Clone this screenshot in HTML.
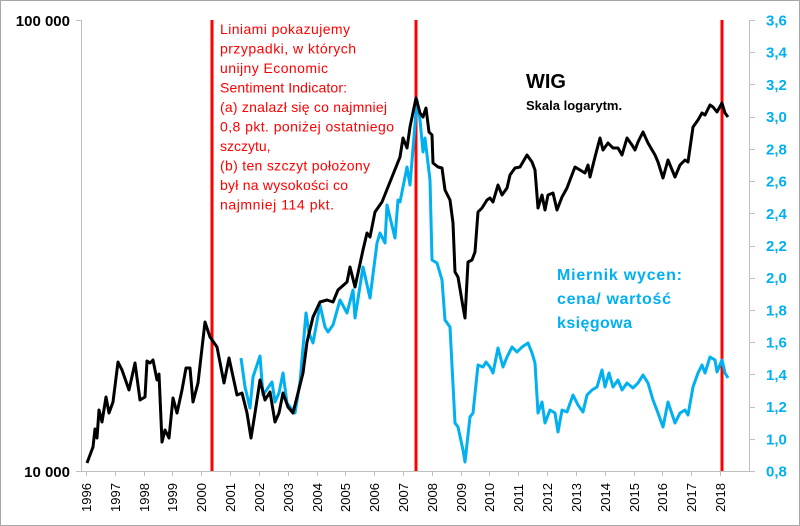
<!DOCTYPE html>
<html><head><meta charset="utf-8"><style>
html,body{margin:0;padding:0;background:#fff}
svg{display:block;font-family:"Liberation Sans",sans-serif}
</style></head><body>
<svg width="800" height="526" viewBox="0 0 800 526" xmlns="http://www.w3.org/2000/svg">
<rect x="0.5" y="0.5" width="799" height="525" fill="#fff" stroke="#a6a6a6"/>
<g stroke="#bfbfbf" stroke-width="1" fill="none">
<line x1="81.5" y1="20" x2="81.5" y2="471"/>
<line x1="76" y1="20.5" x2="81" y2="20.5"/>
<line x1="76" y1="471.5" x2="81" y2="471.5"/>
<line x1="81" y1="471.5" x2="749" y2="471.5"/>
<line x1="749.5" y1="20" x2="749.5" y2="471"/>
</g>
<g stroke="#bfbfbf" stroke-width="1" id="rt"></g>
<g stroke="#bfbfbf" stroke-width="1" id="bt"></g>
<g font-size="15" font-weight="bold" fill="#000" text-anchor="end">
<text x="70" y="26">100 000</text>
<text x="70" y="477">10 000</text>
</g>
<g font-size="15" font-weight="bold" fill="#00b0f0" id="rl"></g>
<g font-size="13" fill="#000" id="yl"></g>
<g stroke="#ff0000" stroke-width="3">
<line x1="212" y1="20" x2="212" y2="471"/>
<line x1="416" y1="20" x2="416" y2="471"/>
<line x1="722" y1="20" x2="722" y2="471"/>
</g>
<polyline fill="none" stroke="#00b0f0" stroke-width="3" stroke-linejoin="round" points="241,358 245,387 250,408 253,377 260,356 263,395 272,382 275,402 279,393 283,373 287,403 295,413 300,382 306,313 309,333 313,343 320,305 325,327 328,332 333,325 340,300 347,313 353,290 355,318 363,267 370,298 377,243 380,233 385,243 387,205 395,238 398,200 400,202 407,167 410,185 417,100 420,120 423,152 425,138 427,155 430,180 432,260 437,263 442,280 445,320 450,327 455,423 458,427 463,450 465,462 470,417 473,413 478,365 483,367 486,362 490,367 493,373 498,348 503,367 507,357 512,347 517,352 522,347 528,343 532,353 535,363 538,413 542,402 545,423 550,410 555,413 558,432 562,410 567,412 573,395 578,405 583,412 587,395 592,390 597,387 602,370 605,387 609,373 613,387 618,380 622,390 627,383 633,388 638,383 643,375 648,383 653,400 658,413 663,427 668,402 675,423 680,413 685,410 688,415 693,387 698,373 702,365 705,373 710,357 715,360 717,372 722,360 725,373 728,378"/>
<polyline fill="none" stroke="#000" stroke-width="3" stroke-linejoin="round" points="87,463 93,447 95,429 97,438 99,410 102,422 106,397 109,413 113,402 118,362 122,370 129,390 135,363 140,400 145,397 147,361 150,363 153,360 157,380 159,374 162,442 165,430 169,438 173,398 177,413 182,390 186,368 190,368 193,402 198,383 205,322 210,337 217,347 224,383 229,358 237,395 242,393 247,413 251,438 255,413 260,380 265,400 270,392 275,422 279,413 283,393 288,407 293,413 298,393 303,373 307,342 313,317 320,302 327,300 333,302 338,290 347,282 350,267 355,287 363,250 367,233 370,237 375,212 382,202 400,157 403,138 407,148 410,127 416,98 420,113 423,117 426,108 429,132 432,135 433,163 438,167 442,168 445,190 450,200 453,223 455,272 458,277 463,307 465,318 468,262 472,260 475,252 478,212 482,208 487,200 490,198 493,202 498,185 502,195 507,188 510,175 515,168 520,167 527,155 532,162 535,170 538,208 542,195 545,210 548,195 553,193 557,210 562,197 567,188 570,180 575,167 580,170 585,173 588,165 590,177 595,157 600,138 603,150 608,143 613,148 618,148 622,155 627,138 632,145 635,150 638,142 643,132 648,143 655,155 658,162 663,178 668,160 675,177 680,165 685,160 688,162 693,127 698,120 702,113 705,115 710,105 713,107 717,112 722,103 725,113 728,117"/>
<g font-size="14" fill="#ff0000">
<text x="220" y="34" textLength="130">Liniami pokazujemy</text>
<text x="220" y="53.5" textLength="136">przypadki, w których</text>
<text x="220" y="73" textLength="108">unijny Economic</text>
<text x="220" y="92.5" textLength="127">Sentiment Indicator:</text>
<text x="220" y="112" textLength="167">(a) znalazł się co najmniej</text>
<text x="220" y="131.5" textLength="174">0,8 pkt. poniżej ostatniego</text>
<text x="220" y="151">szczytu,</text>
<text x="220" y="170.5" textLength="150">(b) ten szczyt położony</text>
<text x="220" y="190" textLength="128">był na wysokości co</text>
<text x="220" y="209.5" textLength="114">najmniej 114 pkt.</text>
</g>
<text x="526" y="88" font-size="20" font-weight="bold" fill="#000">WIG</text>
<text x="526" y="110" font-size="13" font-weight="bold" fill="#000">Skala logarytm.</text>
<g font-size="16" font-weight="bold" fill="#00b0f0">
<text x="557" y="280" textLength="125">Miernik wycen:</text>
<text x="557" y="304" textLength="114">cena/ wartość</text>
<text x="557" y="328" textLength="75">księgowa</text>
</g>
<script>
var ns="http://www.w3.org/2000/svg";
var rt=document.getElementById('rt'),rl=document.getElementById('rl'),bt=document.getElementById('bt'),yl=document.getElementById('yl');
for(var i=0;i<=14;i++){var y=20+i*451/14;var v=(3.6-i*0.2).toFixed(1).replace('.',',');
var l=document.createElementNS(ns,'line');l.setAttribute('x1',749);l.setAttribute('x2',755);l.setAttribute('y1',Math.round(y)+0.5);l.setAttribute('y2',Math.round(y)+0.5);rt.appendChild(l);
var t=document.createElementNS(ns,'text');t.setAttribute('x',766);t.setAttribute('y',y+5.5);t.textContent=v;rl.appendChild(t);}
for(var k=0;k<=26;k++){var x=Math.round(86+k*(720-86)/22)+0.5;if(x>749)break;
var l2=document.createElementNS(ns,'line');l2.setAttribute('x1',x);l2.setAttribute('x2',x);l2.setAttribute('y1',471);l2.setAttribute('y2',476);bt.appendChild(l2);
if(k<=22){var t2=document.createElementNS(ns,'text');t2.setAttribute('transform','translate('+(x+4.5)+',512) rotate(-90)');t2.textContent=String(1996+k);yl.appendChild(t2);}}
</script>
</svg>
</body></html>
